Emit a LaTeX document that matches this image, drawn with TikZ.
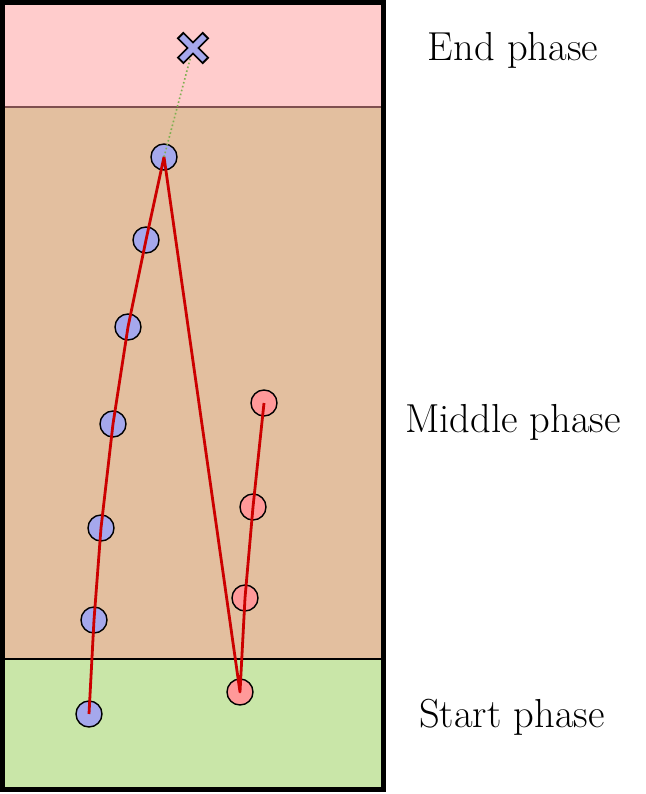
\documentclass[tikz,border=0pt]{standalone}
\begin{document}
\definecolor{endpink}{HTML}{FFCCCC}
\definecolor{midtan}{HTML}{E3BF9F}
\definecolor{startgreen}{HTML}{C9E6A8}
\definecolor{bluedot}{HTML}{A5A8EC}
\definecolor{reddot}{HTML}{FF9999}
\definecolor{pathred}{HTML}{CC0000}
\definecolor{dotgreen}{HTML}{7FAF50}
\definecolor{sepbrown}{HTML}{7F4F4F}
\begin{tikzpicture}[x=1pt,y=-1pt,
  bnode/.style={circle,draw=black,line width=1.4pt,fill=bluedot,minimum size=26pt,inner sep=0pt},
  rnode/.style={circle,draw=black,line width=1.4pt,fill=reddot,minimum size=26pt,inner sep=0pt},
  pathline/.style={draw=pathred,line width=2.8pt},
  lbl/.style={font=\fontsize{40.5}{48}\selectfont,anchor=center}]
\useasboundingbox (0,0) rectangle (645,794);
% phases
\fill[endpink] (2.5,2.5) rectangle (383.5,107);
\fill[midtan] (2.5,107) rectangle (383.5,659);
\fill[startgreen] (2.5,659) rectangle (383.5,789.5);
\draw[sepbrown,line width=2pt] (2.5,107) -- (383.5,107);
\draw[black,line width=2pt] (2.5,659) -- (383.5,659);
\draw[black,line width=5pt] (2.5,2.5) rectangle (383.5,789.5);
% nodes
\node[bnode] (b1) at (89,714) {};
\node[bnode] (b2) at (94,620) {};
\node[bnode] (b3) at (101,528) {};
\node[bnode] (b4) at (113,424) {};
\node[bnode] (b5) at (128,327) {};
\node[bnode] (b6) at (146,240) {};
\node[bnode] (b7) at (164,157) {};
\node[rnode] (r1) at (240,692) {};
\node[rnode] (r2) at (245,598) {};
\node[rnode] (r3) at (253,507) {};
\node[rnode] (r4) at (264,403) {};
\coordinate (x) at (193,48);
% path
\draw[pathline,line join=round] (b1.center) -- (b2.center) -- (b3.center) -- (b4.center) -- (b5.center) -- (b6.center) -- (b7.center) -- (r1.center) -- (r2.center) -- (r3.center) -- (r4.center);
\draw[dotgreen,line width=1.6pt,dash pattern=on 1.6pt off 2.4pt] (b7.center) -- (x);
% cross
\draw[black,line width=9.5pt] ([shift={(-13,-13)}]x) -- ([shift={(13,13)}]x);
\draw[black,line width=9.5pt] ([shift={(13,-13)}]x) -- ([shift={(-13,13)}]x);
\draw[bluedot,line width=6pt] ([shift={(-11.6,-11.6)}]x) -- ([shift={(11.6,11.6)}]x);
\draw[bluedot,line width=6pt] ([shift={(11.6,-11.6)}]x) -- ([shift={(-11.6,11.6)}]x);
% labels
\node[lbl] (le) at (513,50) {End phase};
\node[lbl] (lm) at (513,422) {Middle phase};
\node[lbl] (ls) at (512,717) {Start phase};
\end{tikzpicture}
\end{document}
